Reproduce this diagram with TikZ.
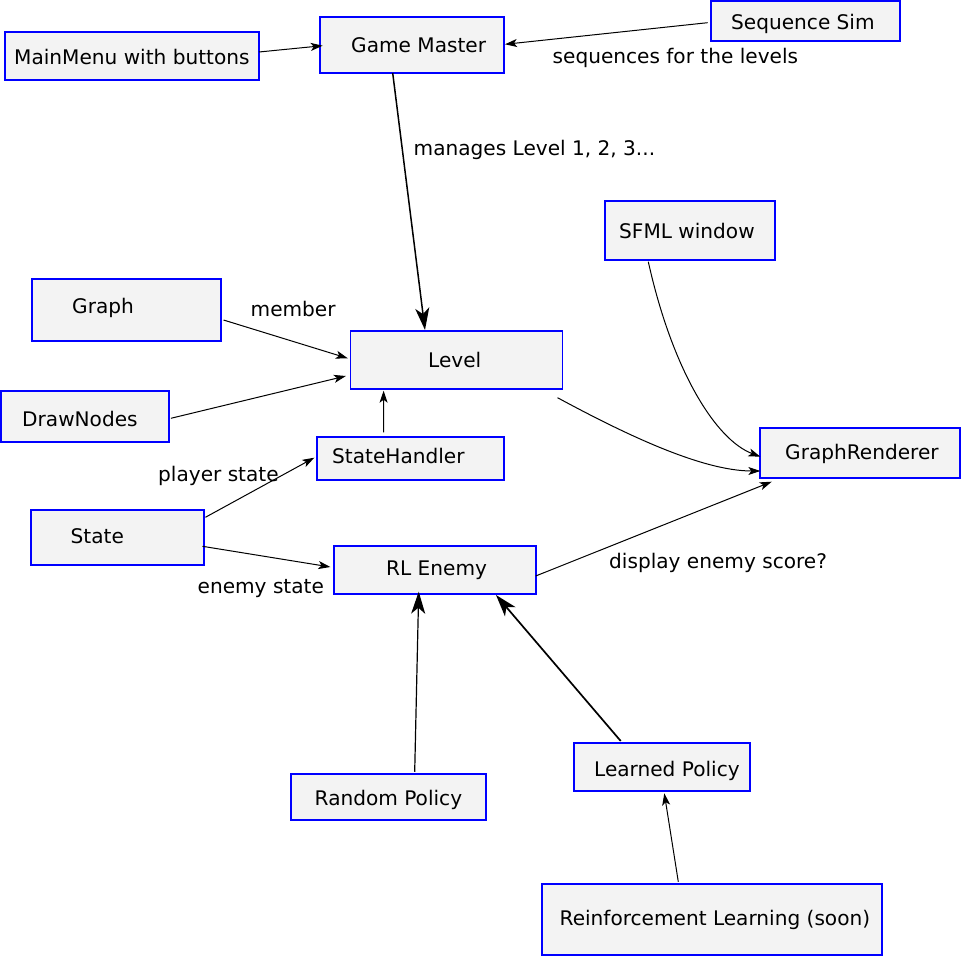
\documentclass[tikz,border=0pt]{standalone}
\usepackage{fontspec}
\setmainfont{DejaVu Sans}
\usetikzlibrary{arrows.meta}
\definecolor{boxfill}{HTML}{F3F3F3}
\definecolor{boxline}{HTML}{0000FF}
\tikzset{
  box/.style={draw=boxline, fill=boxfill, line width=2pt, inner sep=0pt, outer sep=0pt},
  thinbox/.style={box, line width=1.2pt},
  txt/.style={inner sep=0pt, anchor=base west, font=\fontsize{20.1}{24}\selectfont},
  arr/.style={line width=1pt, -{Stealth[length=12pt,width=8pt,inset=3pt]}},
  bigarr/.style={line width=1.5pt, -{Stealth[length=22pt,width=14pt,inset=6pt]}},
}
\begin{document}
\begin{tikzpicture}[x=1pt,y=-1pt]
\useasboundingbox (0,0) rectangle (961,957);

% boxes
\node[box, minimum width=254, minimum height=48] (menu) at (132,56) {};
\node[box, minimum width=184, minimum height=56] (gm) at (412,45) {};
\node[box, minimum width=189.3, minimum height=40.3] (seq) at (805.3,21.2) {};
\node[box, minimum width=170.3, minimum height=59.3] (sfml) at (689.9,230.7) {};
\node[box, minimum width=189, minimum height=61.4] (graph) at (126.7,310) {};
\node[thinbox, minimum width=212.4, minimum height=58] (level) at (456.5,360) {};
\node[box, minimum width=168, minimum height=51.6] (dn) at (84.7,416.5) {};
\node[box, minimum width=187.2, minimum height=42.7] (sh) at (410.4,458.7) {};
\node[box, minimum width=199.7, minimum height=49.4] (gr) at (860.2,453) {};
\node[box, minimum width=173, minimum height=55.6] (state) at (117.5,537.5) {};
\node[box, minimum width=201.8, minimum height=48] (rl) at (434.8,569.7) {};
\node[box, minimum width=195.3, minimum height=45.7] (random) at (388.4,797.2) {};
\node[box, minimum width=176, minimum height=47.4] (learned) at (662.3,767) {};
\node[box, minimum width=339.7, minimum height=70.7] (rlearn) at (711.9,919.7) {};

% box titles
\node[txt] (menu-t) at (14,64.3) {MainMenu with buttons};
\node[txt] (gm-t) at (351,52.6) {Game Master};
\node[txt] (seq-t) at (731,29.6) {Sequence Sim};
\node[txt] (sfml-t) at (619,238.6) {SFML window};
\node[txt] (graph-t) at (72,314) {Graph};
\node[txt] (level-t) at (428,368) {Level};
\node[txt] (dn-t) at (22,426) {DrawNodes};
\node[txt] (sh-t) at (332,463) {StateHandler};
\node[txt] (gr-t) at (785,459.6) {GraphRenderer};
\node[txt] (state-t) at (70.5,543.6) {State};
\node[txt] (rl-t) at (386,575.3) {RL Enemy};
\node[txt] (random-t) at (314.5,805.3) {Random Policy};
\node[txt] (learned-t) at (594,776.3) {Learned Policy};
\node[txt] (rlearn-t) at (559.5,925.3) {Reinforcement Learning (soon)};

% connector labels
\node[txt] (l-seq) at (552.5,63.6) {sequences for the levels};
\node[txt] (l-lvl) at (413.5,156) {manages Level 1, 2, 3...};
\node[txt] (l-mem) at (250.5,317) {member};
\node[txt] (l-ps) at (158,481.3) {player state};
\node[txt] (l-es) at (197.5,593.6) {enemy state};
\node[txt] (l-score) at (609,568) {display enemy score?};

% connectors
\draw[arr] ([yshift=4pt]menu.east) -- ([xshift=2.7pt,yshift=-0.7pt]gm.west);
\draw[arr] ([xshift=-3pt,yshift=-1.5pt]seq.west) -- ([xshift=1pt,yshift=0.7pt]gm.east);
\draw[bigarr] ([xshift=-19.3pt]gm.south) -- ([xshift=-31.5pt,yshift=1pt]level.north);
\draw[arr] ([xshift=2.3pt,yshift=-10pt]graph.east) -- ([xshift=-2.5pt,yshift=1.7pt]level.west);
\draw[arr] ([xshift=2.2pt,yshift=-1.8pt]dn.east) -- ([xshift=-4.4pt,yshift=-16pt]level.west);
\draw[arr] ([xshift=-26.8pt,yshift=5pt]sh.north) -- ([xshift=-72.9pt,yshift=-1.7pt]level.south);
\draw[arr] ([xshift=1.4pt,yshift=20.2pt]state.east) -- ([xshift=-2.5pt,yshift=1pt]sh.west);
\draw[arr] ([xshift=-1.5pt,yshift=-8.8pt]state.east) -- ([xshift=-3.5pt,yshift=2.7pt]rl.west);
\draw[arr] ([yshift=-6.3pt]rl.east) -- ([xshift=-88.5pt,yshift=-4pt]gr.south);
\draw[arr] ([xshift=-41.6pt,yshift=-1.4pt]sfml.south)
  .. controls +(24,108) and +(-45,-17) .. ([yshift=-3.7pt]gr.west);
\draw[arr] ([xshift=-5.2pt,yshift=-8.7pt]level.south east)
  .. controls +(63,34) and +(-60,0) .. ([yshift=-18pt]gr.west);
\draw[bigarr, line width=1.2pt] ([xshift=26.3pt,yshift=2.6pt]random.north) -- ([xshift=-16.1pt,yshift=2pt]rl.south);
\draw[bigarr, line width=1.7pt] ([xshift=-41.6pt,yshift=2.3pt]learned.north) -- ([xshift=61.2pt,yshift=-1.3pt]rl.south);
\draw[arr] ([xshift=-33.6pt,yshift=2.6pt]rlearn.north) -- ([xshift=2pt,yshift=-2.6pt]learned.south);
\end{tikzpicture}
\end{document}
